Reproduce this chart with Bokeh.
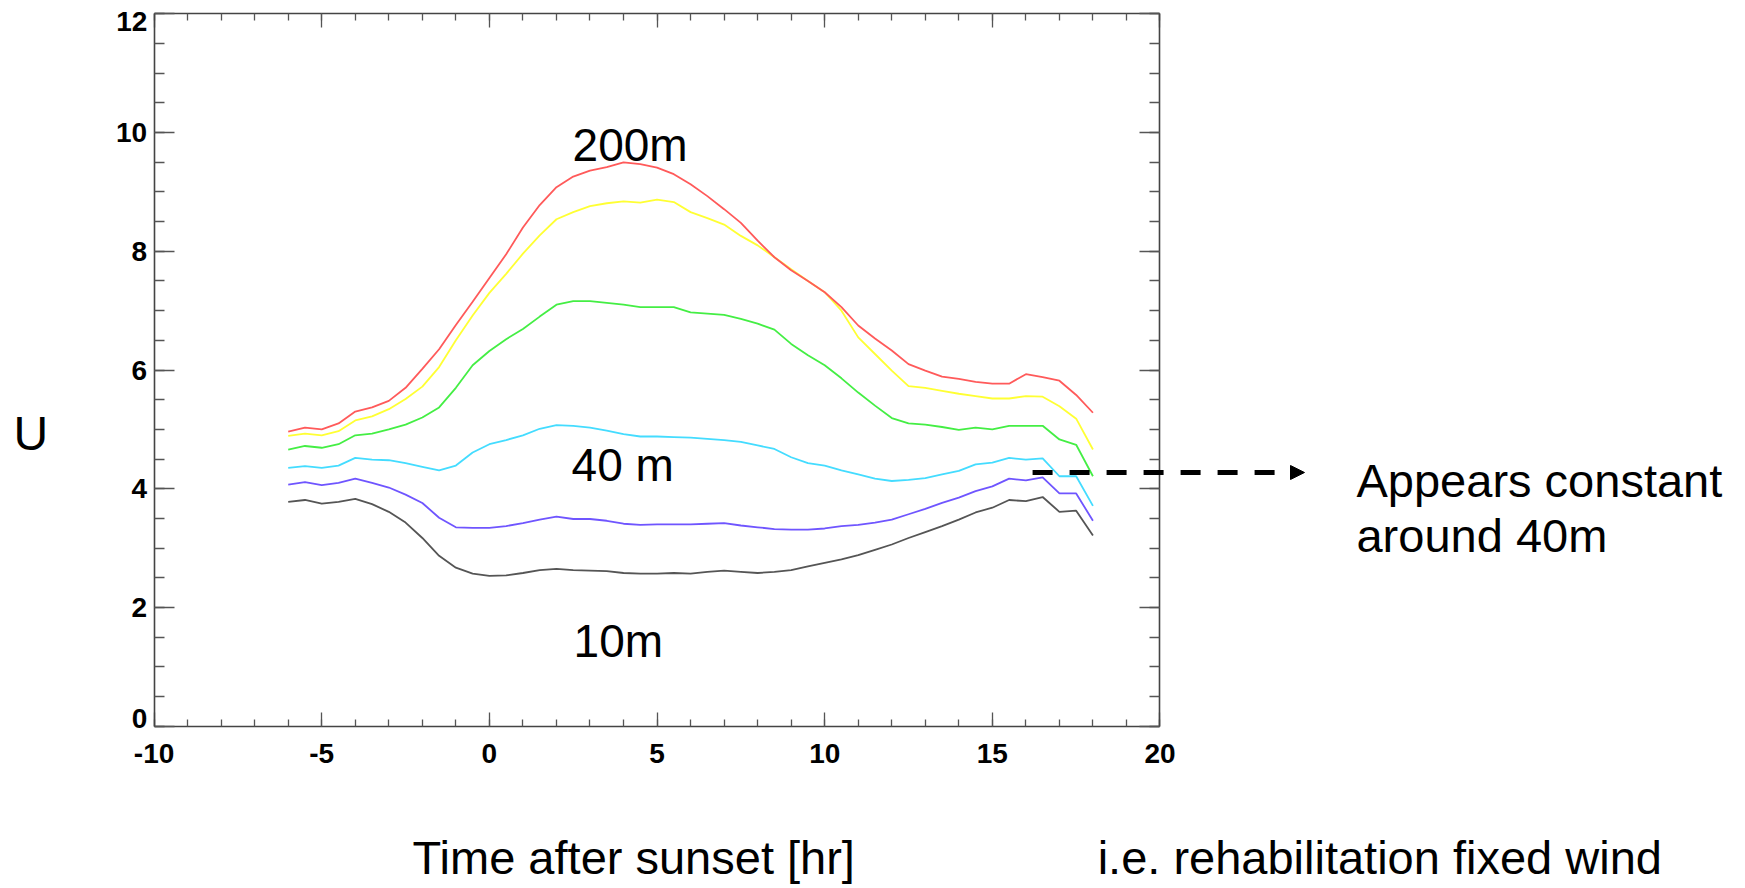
from bokeh.plotting import figure
from bokeh.models import (LinearAxis, SingleIntervalTicker, Label, Arrow, NormalHead,
                          Range1d, CustomJSTickFormatter)
from bokeh.embed import file_html
from bokeh.resources import INLINE

# ---- data ----
hours = [-6.0, -5.5, -5.0, -4.5, -4.0, -3.5, -3.0, -2.5, -2.0, -1.5, -1.0, -0.5,
         0.0, 0.5, 1.0, 1.5, 2.0, 2.5, 3.0, 3.5, 4.0, 4.5, 5.0, 5.5,
         6.0, 6.5, 7.0, 7.5, 8.0, 8.5, 9.0, 9.5, 10.0, 10.5, 11.0, 11.5,
         12.0, 12.5, 13.0, 13.5, 14.0, 14.5, 15.0, 15.5, 16.0, 16.5, 17.0, 17.5, 18.0]

u_red = [4.96, 5.03, 5.00, 5.10, 5.30, 5.37, 5.48, 5.70, 6.02, 6.35, 6.76, 7.15,
         7.55, 7.95, 8.40, 8.78, 9.08, 9.26, 9.36, 9.42, 9.50, 9.47, 9.41, 9.30,
         9.13, 8.93, 8.71, 8.48, 8.18, 7.90, 7.68, 7.50, 7.31, 7.06, 6.75, 6.53,
         6.33, 6.10, 5.99, 5.89, 5.85, 5.80, 5.77, 5.77, 5.93, 5.88, 5.82, 5.58, 5.28]

u_yellow = [4.89, 4.93, 4.90, 4.97, 5.15, 5.22, 5.34, 5.51, 5.72, 6.05, 6.50, 6.92,
            7.30, 7.62, 7.96, 8.27, 8.54, 8.66, 8.76, 8.81, 8.84, 8.82, 8.87, 8.83,
            8.66, 8.56, 8.45, 8.26, 8.10, 7.90, 7.70, 7.50, 7.31, 7.00, 6.55, 6.27,
            5.99, 5.73, 5.70, 5.65, 5.60, 5.56, 5.52, 5.52, 5.56, 5.55, 5.39, 5.18, 4.66]

u_green = [4.66, 4.72, 4.69, 4.75, 4.90, 4.93, 5.00, 5.08, 5.20, 5.37, 5.70, 6.08,
           6.32, 6.52, 6.69, 6.90, 7.10, 7.16, 7.16, 7.13, 7.10, 7.06, 7.06, 7.06,
           6.97, 6.95, 6.93, 6.86, 6.78, 6.68, 6.44, 6.25, 6.08, 5.86, 5.62, 5.40,
           5.19, 5.10, 5.08, 5.04, 4.99, 5.03, 5.00, 5.06, 5.06, 5.06, 4.83, 4.74, 4.21]

u_cyan = [4.35, 4.38, 4.35, 4.39, 4.52, 4.49, 4.48, 4.43, 4.37, 4.31, 4.39, 4.61,
          4.75, 4.82, 4.90, 5.01, 5.07, 5.06, 5.03, 4.98, 4.92, 4.88, 4.88, 4.87,
          4.86, 4.84, 4.82, 4.79, 4.73, 4.67, 4.53, 4.43, 4.39, 4.31, 4.24, 4.17,
          4.13, 4.15, 4.18, 4.24, 4.30, 4.41, 4.44, 4.52, 4.49, 4.51, 4.21, 4.21, 3.71]

u_purple = [4.07, 4.11, 4.06, 4.10, 4.17, 4.10, 4.02, 3.90, 3.76, 3.51, 3.35, 3.34,
            3.34, 3.37, 3.42, 3.48, 3.53, 3.49, 3.49, 3.46, 3.41, 3.39, 3.40, 3.40,
            3.40, 3.41, 3.42, 3.38, 3.35, 3.32, 3.31, 3.31, 3.33, 3.37, 3.39, 3.43,
            3.48, 3.57, 3.66, 3.76, 3.85, 3.96, 4.04, 4.17, 4.14, 4.19, 3.92, 3.92, 3.46]

u_gray = [3.78, 3.81, 3.75, 3.78, 3.83, 3.74, 3.61, 3.43, 3.17, 2.87, 2.67, 2.57,
          2.53, 2.54, 2.58, 2.63, 2.65, 2.63, 2.62, 2.61, 2.58, 2.57, 2.57, 2.58,
          2.57, 2.60, 2.62, 2.60, 2.58, 2.60, 2.63, 2.69, 2.75, 2.81, 2.88, 2.97,
          3.06, 3.17, 3.27, 3.37, 3.48, 3.60, 3.68, 3.81, 3.79, 3.86, 3.61, 3.63, 3.21]

series = [u_gray, u_purple, u_cyan, u_green, u_yellow, u_red]
series_colors = ["#555555", "#6f55ff", "#44dcff", "#44ee44", "#ffff33", "#ff5a5a"]

x_ticks_range = (-10, 20)
y_ticks_range = (0, 12)

FONT = "Liberation Sans"

# The frame covers the whole canvas; the plot box is drawn by fixed-location axes.
p = figure(width=1745, height=888, x_range=Range1d(-14.581, 37.462), y_range=Range1d(-2.736, 12.226),
           output_backend="svg", toolbar_location=None,
           x_axis_location=None, y_axis_location=None,
           min_border_left=0, min_border_right=0, min_border_top=0, min_border_bottom=0)
p.grid.visible = False
p.outline_line_color = None
p.background_fill_color = "white"
p.border_fill_color = "white"

blank = CustomJSTickFormatter(code="return ''")


def make_axis(is_x, loc, show_labels):
    if is_x:
        ticker = SingleIntervalTicker(interval=5, num_minor_ticks=5)
        tin, mtin = 14, 7
        bounds = x_ticks_range
    else:
        ticker = SingleIntervalTicker(interval=2, num_minor_ticks=4)
        tin, mtin = 20, 10
        bounds = y_ticks_range
    ax = LinearAxis(ticker=ticker, fixed_location=loc, bounds=bounds)
    ax.axis_line_color = "#444444"
    ax.axis_line_width = 1.6
    ax.major_tick_in = tin
    ax.major_tick_out = 0
    ax.minor_tick_in = mtin
    ax.minor_tick_out = 0
    ax.major_tick_line_color = "#555555"
    ax.minor_tick_line_color = "#555555"
    ax.major_tick_line_width = 1.3
    ax.minor_tick_line_width = 1.3
    ax.major_label_text_font = FONT
    ax.major_label_text_font_style = "bold"
    ax.major_label_text_color = "black"
    ax.major_label_text_font_size = "28px"
    if show_labels:
        ax.major_label_standoff = 18 if is_x else 7
        if is_x:
            ax.major_label_overrides = {-10: "-10", -5: "-5"}
        else:
            ax.major_label_overrides = {0: "", 12: ""}
    else:
        ax.formatter = blank
        ax.major_label_standoff = 0
    return ax


p.add_layout(make_axis(False, -10, True), "left")
p.add_layout(make_axis(False, 20, False), "right")
p.add_layout(make_axis(True, 0, True), "below")
p.add_layout(make_axis(True, 12, False), "above")

for vals, col in zip(series, series_colors):
    p.line(hours, vals, line_color=col, line_width=1.8)

BASE_SHIFT = 0.28  # lift so the drawn baseline lands where the reference has it


def add_label(x, y, text, size="47px", bold=False, align="left", baseline="alphabetic"):
    yy = y + BASE_SHIFT if baseline == "alphabetic" else y
    p.add_layout(Label(x=x, y=yy, text=text, text_font=FONT, text_font_size=size,
                       text_font_style="bold" if bold else "normal",
                       text_color="black", text_align=align, text_baseline=baseline))


# end tick labels of the y axis sit inside the box, as in the reference
add_label(-10.2, 11.865, "12", "28px", bold=True, align="right", baseline="middle")
add_label(-10.2, 0.13, "0", "28px", bold=True, align="right", baseline="middle")

add_label(2.48, 9.513, "200m", "46px")
add_label(2.45, 4.121, "40 m", "46px")
add_label(2.51, 1.156, "10m", "46px")
add_label(-14.19, 4.644, "U", "48px")
add_label(-2.29, -2.50, "Time after sunset [hr]", "47px")
add_label(25.86, 3.851, "Appears constant", "47px")
add_label(25.86, 2.925, "around 40m", "47px")
add_label(18.14, -2.50, "i.e. rehabilitation fixed wind", "47px")

p.add_layout(Arrow(x_start=16.2, y_start=4.273, x_end=24.31, y_end=4.273,
                   line_color="black", line_width=5, line_dash="20 17",
                   end=NormalHead(size=14, fill_color="black", line_color="black", line_width=1)))

open("out.html", "w").write(file_html(p, INLINE))
